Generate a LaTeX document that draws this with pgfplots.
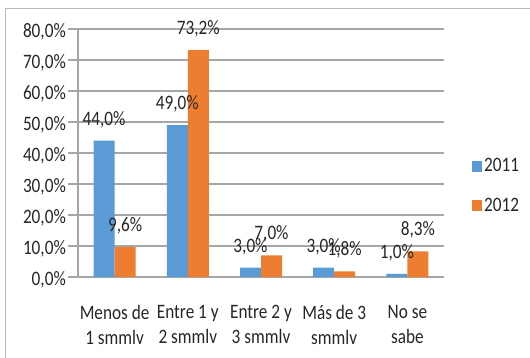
\documentclass[border=0pt]{standalone}
\usepackage{pgfplots}
\pgfplotsset{compat=1.18}
\usepackage{fontspec}
\setmainfont{Carlito}[FakeStretch=0.84]
\definecolor{bar2011}{HTML}{5B9BD5}
\definecolor{bar2012}{HTML}{ED7D31}
\definecolor{gridgray}{HTML}{A6A6A6}
\definecolor{txt}{HTML}{262626}
\newcommand\lblfont{\fontsize{20.5pt}{25pt}\selectfont}

\begin{document}
\begin{tikzpicture}[x=1pt,y=1pt]
\path[use as bounding box] (0,0) rectangle (530,357);
% chart frame
\draw[gridgray!80, line width=1pt] (5.5,-2) -- (5.5,348.5) -- (532,348.5);
\begin{axis}[
  at={(78pt,80pt)}, anchor=south west,
  scale only axis, width=366pt, height=248pt,
  ybar=0pt, bar width=21pt,
  xmin=-0.5, xmax=4.5, ymin=0, ymax=80,
  ytick={0,10,...,80},
  xtick={0,...,4},
  xticklabels={{Menos de\\1 smmlv},{Entre 1 y\\2 smmlv},{Entre 2 y\\3 smmlv},{Más de 3\\smmlv},{No se\\sabe}},
  xtick style={draw=none},
  extra x ticks={-0.5,0.5,...,4.5},
  extra x tick labels={},
  extra x tick style={grid=none, major tick length=8pt},
  tick align=outside, major tick length=10pt,
  tick style={gridgray, line width=1.2pt},
  axis x line*=bottom, axis y line*=left,
  axis line style={gridgray, line width=1.2pt},
  ymajorgrids, grid style={gridgray, line width=1.2pt},
  /pgf/number format/assume math mode=true,
  every tick label/.append style={font=\lblfont, text=txt},
  yticklabel style={inner sep=0pt, xshift=-2pt, yshift=-2.5pt,
    /pgf/number format/.cd, fixed, fixed zerofill, precision=1, use comma},
  yticklabel={\pgfmathprintnumber{\tick}\%},
  xticklabel style={align=center, inner sep=0pt, anchor=north, yshift=-18pt},
  nodes near coords={\pgfmathprintnumber[fixed, fixed zerofill, precision=1, use comma]{\pgfplotspointmeta}\%},
  nodes near coords style={anchor=base, yshift=15.5pt, inner sep=0pt, font=\lblfont, text=txt},
  legend entries={2011,2012},
  legend cell align=left,
  legend style={draw=none, fill=none, at={(1.0683,0.367)}, anchor=west,
    font=\lblfont, text=txt, row sep=21pt, nodes={inner sep=2pt}},
  legend image code/.code={\path[#1,draw=none] (0pt,-5.5pt) rectangle (10pt,5.5pt);},
]
\addplot[fill=bar2011, draw=none] coordinates {(0,44.0) (1,49.0) (2,3.0) (3,3.0) (4,1.0)};
\addplot[fill=bar2012, draw=none] coordinates {(0,9.6) (1,73.2) (2,7.0) (3,1.8) (4,8.3)};
\end{axis}
\end{tikzpicture}
\end{document}
